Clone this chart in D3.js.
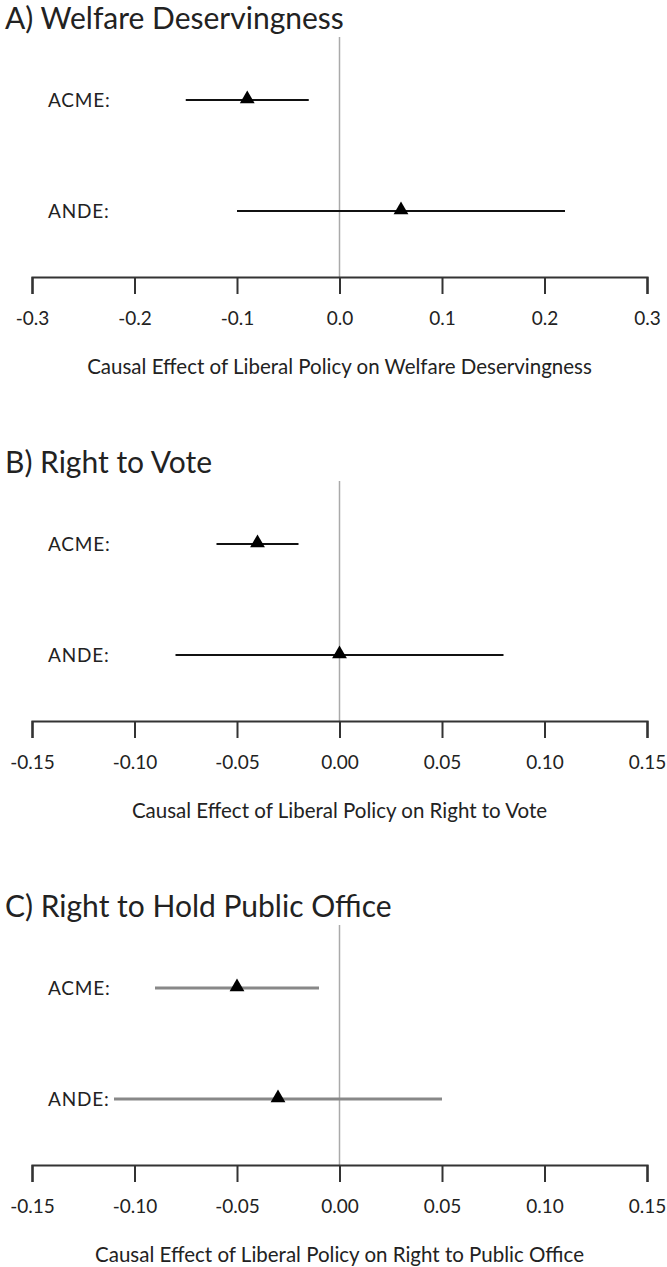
<!DOCTYPE html>
<html>
<head>
<meta charset="utf-8">
<script src="https://cdn.jsdelivr.net/npm/d3@7"></script>
<style>
  html, body { margin: 0; padding: 0; background: #fff; }
  svg { display: block; }
  text { font-family: Lato, "Open Sans", sans-serif; fill: #222; }
</style>
</head>
<body>
<svg id="chart" width="667" height="1267"></svg>
<script>
// Estimates and intervals for each outcome
const panelTitles = ["A) Welfare Deservingness", "B) Right to Vote", "C) Right to Hold Public Office"];
const axisTitles = [
  "Causal Effect of Liberal Policy on Welfare Deservingness",
  "Causal Effect of Liberal Policy on Right to Vote",
  "Causal Effect of Liberal Policy on Right to Public Office"
];
const rowLabels = ["ACME:", "ANDE:"];
const domains = [[-0.3, 0.3], [-0.15, 0.15], [-0.15, 0.15]];
const tickValues = [
  [-0.3, -0.2, -0.1, 0.0, 0.1, 0.2, 0.3],
  [-0.15, -0.10, -0.05, 0.00, 0.05, 0.10, 0.15],
  [-0.15, -0.10, -0.05, 0.00, 0.05, 0.10, 0.15]
];
const tickFormats = [".1f", ".2f", ".2f"];
// [ACME, ANDE] per panel
const estimates = [[-0.09, 0.06], [-0.04, 0.00], [-0.05, -0.03]];
const lower =     [[-0.15, -0.10], [-0.06, -0.08], [-0.09, -0.11]];
const upper =     [[-0.03, 0.22], [-0.02, 0.08], [-0.01, 0.05]];
const lineColors = ["#111", "#111", "#888"];

const svg = d3.select("#chart");
const axisY0 = 277, panelStep = 444;

panelTitles.forEach((title, p) => {
  const ay = axisY0 + p * panelStep;
  const g = svg.append("g");
  const x = d3.scaleLinear().domain(domains[p]).range([32, 647]);
  const y = d3.scalePoint().domain(rowLabels).range([ay - 177, ay - 66]);

  g.append("text")
    .attr("x", 5).attr("y", ay - 248)
    .attr("font-size", 30)
    .attr("fill", "#222")
    .text(title);

  // reference line at zero
  g.append("line")
    .attr("x1", x(0)).attr("x2", x(0))
    .attr("y1", ay - 240).attr("y2", ay)
    .attr("stroke", "#aaa").attr("stroke-width", 1.5);

  // row labels
  g.selectAll(".rl").data(rowLabels).enter().append("text")
    .attr("x", 48).attr("y", d => y(d) + 7)
    .attr("font-size", 19)
    .attr("letter-spacing", 0.8)
    .attr("fill", "#333")
    .text(d => d);

  const rows = rowLabels.map((r, i) => ({ r, est: estimates[p][i], lo: lower[p][i], hi: upper[p][i] }));

  g.selectAll(".ci").data(rows).enter().append("line")
    .attr("x1", d => x(d.lo)).attr("x2", d => x(d.hi))
    .attr("y1", d => y(d.r)).attr("y2", d => y(d.r))
    .attr("stroke", lineColors[p]).attr("stroke-width", p === 2 ? 3 : 2.2);

  g.selectAll(".pt").data(rows).enter().append("path")
    .attr("d", d3.symbol().type(d3.symbolTriangle).size(95))
    .attr("transform", d => `translate(${x(d.est)},${y(d.r) - 1})`)
    .attr("fill", "#000");

  // bottom axis
  const axis = d3.axisBottom(x)
    .tickValues(tickValues[p])
    .tickFormat(d3.format(tickFormats[p]))
    .tickSize(17).tickPadding(18);
  const ag = g.append("g").attr("transform", `translate(0,${ay})`).call(axis);
  ag.select(".domain").attr("stroke", "#333").attr("stroke-width", 2.2);
  ag.selectAll(".tick line").attr("stroke", "#333").attr("stroke-width", 2);
  ag.selectAll(".tick text")
    .attr("font-size", 19)
    .attr("font-family", "Lato, sans-serif")
    .attr("fill", "#333")
    .text(function () { return d3.select(this).text().replace("−", "-"); });

  g.append("text")
    .attr("x", x(0)).attr("y", ay + 97)
    .attr("text-anchor", "middle")
    .attr("font-size", 20.5)
    .attr("fill", "#333")
    .text(axisTitles[p]);
});
</script>
</body>
</html>
